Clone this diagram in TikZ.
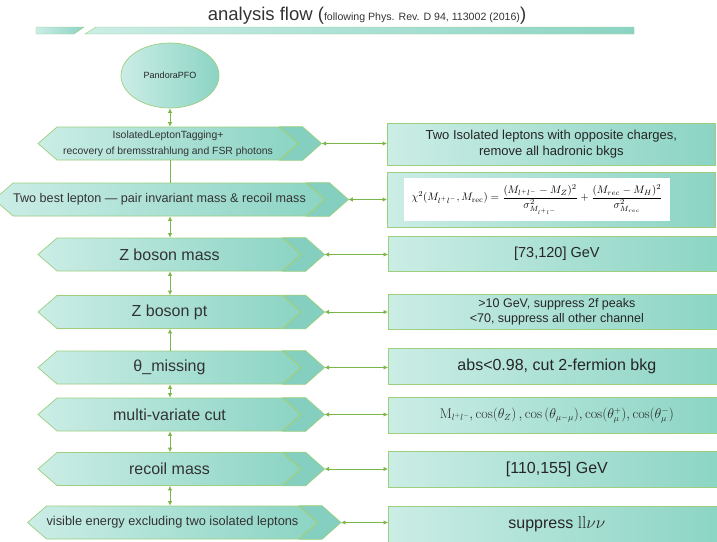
\documentclass[tikz,border=0pt]{standalone}
\usepackage[no-math]{fontspec}
\setmainfont{Liberation Sans}
\usepackage{xcolor}
\usepackage{graphicx}
\usepackage{tikz}
\usetikzlibrary{arrows.meta, shapes.geometric, shapes.symbols}

\definecolor{edgegreen}{HTML}{9CCF7E}
\definecolor{linkgreen}{HTML}{7AB648}
\definecolor{tealpale}{HTML}{CBEDE6}
\definecolor{tealdeep}{HTML}{8BD4C4}
\definecolor{tealband}{HTML}{84CFBF}
\definecolor{textgray}{HTML}{333333}

\begin{document}
\begin{tikzpicture}[x=1pt, y=-1pt,
        hexbox/.style={
            signal, signal to=west and east, signal pointer angle=82,
            draw=edgegreen, line width=0.7pt, left color=tealpale, right color=tealdeep,
            minimum width=263pt, minimum height=33pt, inner sep=0pt,
            align=center, text=textgray, font=\fontsize{16}{18}\selectfont
        },
        hexband/.style={draw=edgegreen, line width=0.7pt, fill=tealband},
        cutbox/.style={
            draw=edgegreen, line width=0.7pt, left color=tealpale, right color=tealdeep,
            anchor=west, minimum width=337pt, minimum height=36pt, inner sep=0pt,
            align=center, text=black!85, font=\fontsize{16}{18}\selectfont
        },
        link/.style={draw=linkgreen, line width=0.8pt, {Latex[length=4.5pt,width=4.5pt]}-{Latex[length=4.5pt,width=4.5pt]}},
        oneway/.style={draw=linkgreen, line width=0.8pt, -{Latex[length=4.5pt,width=4.5pt]}}
    ]
        \useasboundingbox (0,0) rectangle (717,541);

        % title and bar
        \node[text=textgray, inner sep=0pt] (title) at (367,16) {\fontsize{18.5}{20}\selectfont analysis flow (\fontsize{10.6}{12}\selectfont following Phys. Rev. D 94, 113002 (2016)\fontsize{18.5}{20}\selectfont)};
        \path[draw=edgegreen, left color=tealpale, right color=tealdeep] (36,27) -- (84,27) -- (74,34) -- (36,34) -- cycle;
        \path[draw=edgegreen, left color=tealpale, right color=tealdeep] (96,27) -- (634,27) -- (634,34) -- (85,34) -- cycle;

        \node[ellipse, draw=edgegreen, line width=0.7pt, left color=tealpale, right color=tealdeep, minimum width=98pt, minimum height=65pt,
              inner sep=0pt, text=black!85, font=\fontsize{9}{11}\selectfont] (pfo) at (170,75.5) {PandoraPFO};

        % selection steps
        \node[hexbox, minimum width=260pt, font=\fontsize{10.4}{16}\selectfont] (iso) at (168,143.5) {IsolatedLeptonTagging+\\recovery of bremsstrahlung and FSR photons};
        \node[hexbox, minimum width=307pt, font=\fontsize{12.6}{15}\selectfont] (best) at (159.5,199.5) {Two best lepton --- pair invariant mass \& recoil mass};
        \node[hexbox] (zmass) at (169.5,254.5) {Z boson mass};
        \node[hexbox] (zpt) at (169.5,312) {Z boson pt};
        \node[hexbox] (thmiss) at (169.5,367.5) {θ\_missing};
        \node[hexbox] (mva) at (169.5,414.5) {multi-variate cut};
        \node[hexbox] (recoil) at (169.5,469) {recoil mass};
        \node[hexbox, minimum width=269pt, font=\fontsize{12.8}{15}\selectfont] (evis) at (172.5,522.5) {visible energy excluding two isolated leptons};

        % darker back edge of every step
        \foreach \n in {iso,best,zmass,zpt,thmiss,mva,recoil,evis}
            \path[hexband] (\n.east) -- ([xshift=-19pt]\n.east |- \n.north) -- ([xshift=4pt]\n.east |- \n.north)
                -- ([xshift=23pt]\n.east) -- ([xshift=4pt]\n.east |- \n.south) -- ([xshift=-19pt]\n.east |- \n.south) -- cycle;

        % cuts
        \node[cutbox, minimum width=328pt, minimum height=42pt, font=\fontsize{13}{16}\selectfont] (isocut) at (387,144) {Two Isolated leptons with opposite charges,\\remove all hadronic bkgs};
        \node[cutbox, minimum width=328pt, minimum height=55pt] (bestcut) at (387,199.5) {};
        \node[fill=white, minimum width=266pt, minimum height=43pt, inner sep=0pt] (chisq) at (537,199.5)
            {\resizebox{251pt}{!}{$\displaystyle \chi^2(M_{l^+l^-},M_{\mathrm{rec}})=\frac{(M_{l^+l^-}-M_Z)^2}{\sigma^2_{M_{l^+l^-}}}+\frac{(M_{rec}-M_H)^2}{\sigma^2_{M_{rec}}}$}};
        \node[cutbox, minimum height=35pt, font=\fontsize{14.5}{17}\selectfont] (zmasscut) at (388,253.5) {[73,120] GeV};
        \node[cutbox, minimum height=35pt, font=\fontsize{12.5}{15}\selectfont] (zptcut) at (388,311.5) {>10 GeV, suppress 2f peaks\\<70, suppress all other channel};
        \node[cutbox] (thmisscut) at (388,366) {abs<0.98, cut 2-fermion bkg};
        \node[cutbox] (mvacut) at (388,415.5)
            {\resizebox{234pt}{!}{$\mathrm{M}_{l^+l^-},\cos(\theta_Z)\,,\cos\big(\theta_{\mu-\mu}\big),\cos(\theta_\mu^+),\cos(\theta_\mu^-)$}};
        \node[cutbox] (recoilcut) at (388,469) {[110,155] GeV};
        \node[cutbox] (eviscut) at (388,524) {suppress $\mathrm{ll}\nu\nu$};

        % flow
        \draw[link] (pfo) -- (pfo |- iso.north);
        \draw[draw=linkgreen, line width=0.8pt] (pfo |- iso.south) -- (pfo |- best.north);
        \draw[link] (pfo |- best.south) -- (pfo |- zmass.north);
        \draw[link] (pfo |- zmass.south) -- (pfo |- zpt.north);
        \draw[oneway] (pfo |- thmiss.north) -- (pfo |- zpt.south);
        \draw[link] (pfo |- thmiss.south) -- (pfo |- mva.north);
        \draw[link] (pfo |- mva.south) -- (pfo |- recoil.north);
        \draw[link] (pfo |- recoil.south) -- (pfo |- evis.north);

        \draw[link] ([xshift=23pt]iso.east) -- (iso.east -| isocut.west);
        \draw[link] ([xshift=23pt]best.east) -- (best.east -| bestcut.west);
        \draw[link] ([xshift=23pt]zmass.east) -- (zmass.east -| zmasscut.west);
        \draw[link] ([xshift=23pt]zpt.east) -- (zpt.east -| zptcut.west);
        \draw[link] ([xshift=23pt]thmiss.east) -- (thmiss.east -| thmisscut.west);
        \draw[link] ([xshift=23pt]mva.east) -- (mva.east -| mvacut.west);
        \draw[link] ([xshift=23pt]recoil.east) -- (recoil.east -| recoilcut.west);
        \draw[link] ([xshift=23pt]evis.east) -- (evis.east -| eviscut.west);
    \end{tikzpicture}
\end{document}
